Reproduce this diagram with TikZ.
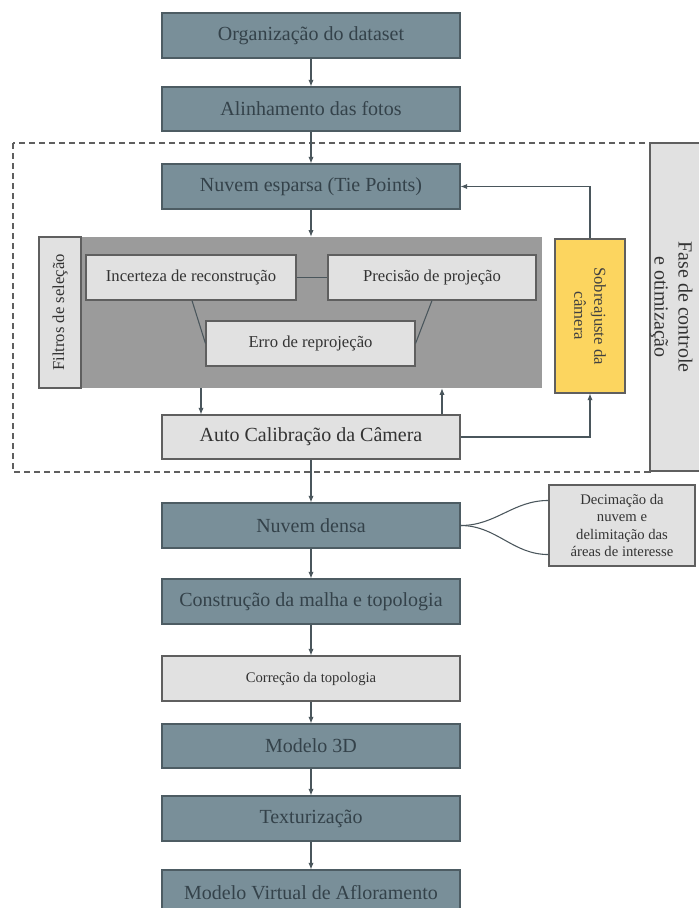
\documentclass[tikz,border=0pt]{standalone}
\usepackage{fontspec}
\setmainfont{Liberation Serif}
\usetikzlibrary{arrows.meta,calc}
\definecolor{slate}{HTML}{798F99}
\definecolor{slateline}{HTML}{4D5C63}
\definecolor{slatetext}{HTML}{34424A}
\definecolor{lightbox}{HTML}{E1E1E1}
\definecolor{boxline}{HTML}{5F5F5F}
\definecolor{midgray}{HTML}{9B9B9B}
\definecolor{yell}{HTML}{FCD55F}
\definecolor{conn}{HTML}{4A565C}
\begin{document}
\begin{tikzpicture}[x=0.75pt,y=-0.75pt,
  mainbox/.style={draw=slateline, fill=slate, line width=0.8pt, text=slatetext,
    font=\fontsize{15}{17}\selectfont, minimum width=223.5pt, minimum height=33.75pt, inner sep=0pt},
  lbox/.style={draw=boxline, fill=lightbox, line width=0.8pt, text=black!80, inner sep=0pt},
  arr/.style={draw=conn, line width=0.8pt, -{Latex[length=5pt,width=4pt]}},
  ln/.style={draw=conn, line width=0.8pt}]
\useasboundingbox (0,0) rectangle (699,908);
% dashed control phase frame
\draw[boxline, line width=0.8pt, dash pattern=on 4.5pt off 3pt] (13,143) rectangle (650,472);
\draw[boxline, fill=lightbox, line width=0.8pt] (650,143) rectangle (712,471);
\node[rotate=-90, align=center, text=black!80, font=\fontsize{15}{18}\selectfont] (fase) at (671.5,307) {Fase de controle\\e otimização};

\node[mainbox] (org) at (311,35.5) {Organização do dataset};
\node[mainbox, minimum height=33pt] (ali) at (311,109) {Alinhamento das fotos};
\node[mainbox] (esp) at (311,186.5) {Nuvem esparsa (Tie Points)};

% selection filters
\node[fill=midgray, minimum width=377.25pt, minimum height=113.25pt, inner sep=0pt] (grayarea) at (290.5,312.5) {};
\node[lbox, rotate=90, minimum width=113.25pt, minimum height=31.5pt, font=\fontsize{12.5}{15}\selectfont] (filt) at (60,312.5) {Filtros de seleção};
\node[lbox, minimum width=157.5pt, minimum height=33.75pt, font=\fontsize{12.5}{15}\selectfont] (inc) at (191,277.5) {Incerteza de reconstrução};
\node[lbox, minimum width=156pt, minimum height=33.75pt, font=\fontsize{12.5}{15}\selectfont] (prec) at (432,277.5) {Precisão de projeção};
\node[lbox, minimum width=156.75pt, minimum height=33.75pt, font=\fontsize{12.5}{15}\selectfont] (erro) at (310.5,343.5) {Erro de reprojeção};

\node[lbox, minimum width=223.5pt, minimum height=33pt, font=\fontsize{15}{17}\selectfont] (auto) at (311,437) {Auto Calibração da Câmera};
\node[lbox, fill=yell, rotate=-90, align=center, minimum width=115.5pt, minimum height=52.5pt, text=black!75, font=\fontsize{12.5}{15}\selectfont] (sob) at (590,316) {Sobreajuste da\\câmera};

\node[mainbox] (densa) at (311,525.5) {Nuvem densa};
\node[lbox, align=center, minimum width=109.5pt, minimum height=60.75pt, font=\fontsize{11}{13}\selectfont] (dec) at (622,525.5) {Decimação da\\nuvem e\\delimitação das\\áreas de interesse};
\node[mainbox] (constr) at (311,601.5) {Construção da malha e topologia};
\node[lbox, minimum width=223.5pt, minimum height=33.75pt, font=\fontsize{11}{13}\selectfont] (corr) at (311,678.5) {Correção da topologia};
\node[mainbox, minimum height=33pt] (m3d) at (311,746) {Modelo 3D};
\node[mainbox] (tex) at (311,818.5) {Texturização};
\node[mainbox] (mva) at (311,892.5) {Modelo Virtual de Afloramento};

% connectors
\coordinate (cl) at (201,0);
\coordinate (cr) at (442,0);
\coordinate (il) at (192,0);
\draw[arr] (org) -- (ali);
\draw[arr] (ali) -- (esp);
\draw[arr] (esp.south) -- (esp.south |- grayarea.north);
\draw[arr] (grayarea.south -| cl) -- (auto.north -| cl);
\draw[arr] (auto.north -| cr) -- (grayarea.south -| cr);
\draw[arr] (auto.east) -| (sob.east);
\draw[arr] (sob.west) |- (esp.east);
\draw[ln] (inc.east) -- (prec.west);
\draw[ln] (inc.south -| il) -- (erro.west);
\draw[ln] (prec.south) -- (erro.east);
\draw[arr] (auto) -- (densa);
\draw[ln] (densa.east) to[out=0,in=180] ($(dec.north west)+(0,16)$);
\draw[ln] (densa.east) to[out=0,in=180] ($(dec.south west)+(0,-12)$);
\draw[arr] (densa) -- (constr);
\draw[arr] (constr) -- (corr);
\draw[arr] (corr) -- (m3d);
\draw[arr] (m3d) -- (tex);
\draw[arr] (tex) -- (mva);
\end{tikzpicture}
\end{document}
